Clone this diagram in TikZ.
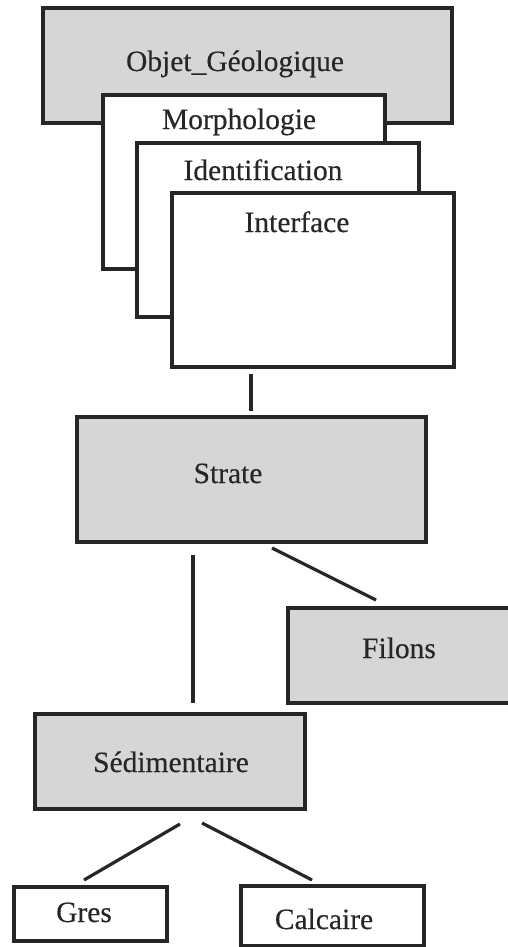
\documentclass[tikz,border=0pt]{standalone}
\usepackage{fontspec}
\setmainfont{Liberation Serif}
\newfontfamily\diagfont[FakeBold=0.3]{Liberation Serif}
\definecolor{dotgray}{gray}{0.84}
\begin{document}
\begin{tikzpicture}[x=1pt,y=-1pt,
  box/.style={draw=black!85, line width=3.2pt, inner sep=0pt, outer sep=0pt, anchor=north west, fill=white},
  shaded/.style={box, fill=dotgray},
  lbl/.style={inner sep=0pt, anchor=base, font=\diagfont\fontsize{29.5}{34}\selectfont, text=black!85},
  conn/.style={draw=black!85, line width=3.2pt}]
\useasboundingbox (0,0) rectangle (508,947);
\clip (0,0) rectangle (508,947);
% stacked object boxes
\node[shaded, minimum width=409pt, minimum height=115pt] (objet) at (43,8) {};
\node[box, minimum width=282pt, minimum height=174pt] (morph) at (103,95) {};
\node[box, minimum width=282pt, minimum height=174pt] (ident) at (137,143) {};
\node[box, minimum width=282pt, minimum height=174pt] (iface) at (172,193) {};
\node[lbl] (tobjet) at (235,71) {Objet\_Géologique};
\node[lbl] (tmorph) at (239,129) {Morphologie};
\node[lbl] (tident) at (263,180) {Identification};
\node[lbl] (tiface) at (297,232) {Interface};
% hierarchy
\node[shaded, minimum width=349pt, minimum height=125pt] (strate) at (77,417) {};
\node[lbl] (tstrate) at (228,483) {Strate};
\node[shaded, minimum width=240pt, minimum height=95pt] (filons) at (288,608) {};
\node[lbl] (tfilons) at (399,658) {Filons};
\node[shaded, minimum width=270pt, minimum height=95pt] (sedi) at (35,714) {};
\node[lbl] (tsedi) at (171,772) {Sédimentaire};
\node[box, minimum width=153pt, minimum height=54pt] (gres) at (14,887) {};
\node[lbl] (tgres) at (84,922) {Gres};
\node[box, minimum width=183pt, minimum height=60pt] (calc) at (241,886) {};
\node[lbl] (tcalc) at (324,929) {Calcaire};
% connectors
\draw[conn] ([xshift=79pt,yshift=-7pt]iface.south west) -- ([xshift=174pt,yshift=6pt]strate.north west);
\draw[conn] ([xshift=195pt,yshift=-6pt]strate.south west) -- ([xshift=88pt,yshift=8pt]filons.north west);
\draw[conn] ([xshift=116pt,yshift=-13pt]strate.south west) -- ([xshift=158pt,yshift=11pt]sedi.north west);
\draw[conn] ([xshift=145pt,yshift=-15pt]sedi.south west) -- ([xshift=70pt,yshift=7pt]gres.north west);
\draw[conn] ([xshift=167pt,yshift=-14pt]sedi.south west) -- ([xshift=71pt,yshift=6pt]calc.north west);
\end{tikzpicture}
\end{document}
